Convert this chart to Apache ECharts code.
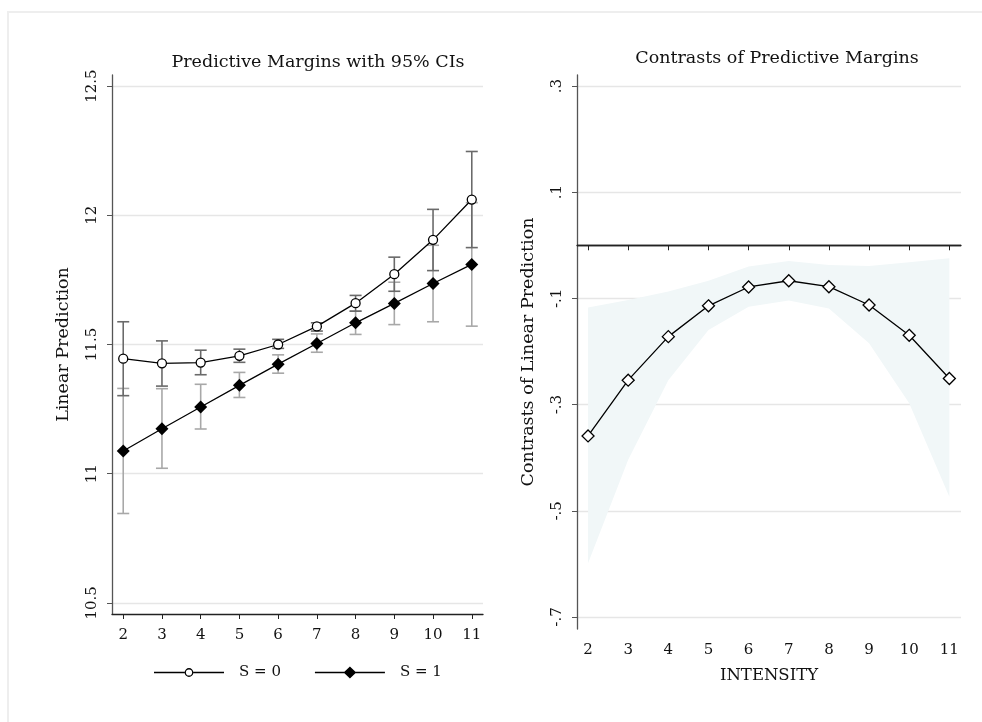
<!DOCTYPE html>
<html lang="en">
<head>
  <meta charset="UTF-8">
  <title>Predictive Margins and Contrasts (ECharts)</title>
  <script src="https://cdn.jsdelivr.net/npm/echarts@6.0.0/dist/echarts.min.js"></script>
  <style>
    html, body { margin: 0; padding: 0; background: #fff; }
    #frame { position: absolute; left: 7px; top: 11px; right: -4px; bottom: -4px;
             border-left: 2px solid #eeeeee; border-top: 2px solid #eeeeee; }
    #chart { position: absolute; left: 0; top: 0; width: 982px; height: 722px; }
  </style>
</head>
<body>
  <div id="frame"></div>
  <div id="chart"></div>
  <script>
    // Intensity levels (x)
    const intensity = [2, 3, 4, 5, 6, 7, 8, 9, 10, 11];

    // Left panel: predictive margins, S = 0 and S = 1, with 95% CIs
    const marginS0 = [11.445, 11.427, 11.430, 11.456, 11.500, 11.570, 11.660, 11.772, 11.905, 12.061];
    const lowS0    = [11.302, 11.339, 11.383, 11.431, 11.485, 11.552, 11.629, 11.706, 11.786, 11.875];
    const highS0   = [11.588, 11.514, 11.478, 11.482, 11.520, 11.584, 11.690, 11.838, 12.023, 12.247];

    const marginS1 = [11.088, 11.174, 11.258, 11.342, 11.424, 11.504, 11.584, 11.659, 11.736, 11.810];
    const lowS1    = [10.846, 11.021, 11.173, 11.295, 11.389, 11.470, 11.539, 11.577, 11.588, 11.571];
    const highS1   = [11.330, 11.329, 11.346, 11.392, 11.460, 11.541, 11.629, 11.741, 11.884, 12.049];

    // Right panel: contrast (S=1 vs S=0) with 95% CI band
    const contrast  = [-0.359, -0.254, -0.172, -0.114, -0.0785, -0.0668, -0.078, -0.1125, -0.1695, -0.2508];
    const contrLow  = [-0.599, -0.404, -0.254, -0.1595, -0.1156, -0.104, -0.119, -0.1847, -0.2976, -0.4735];
    const contrHigh = [-0.117, -0.103, -0.087, -0.0667, -0.040, -0.0296, -0.037, -0.039, -0.032, -0.0246];

    const leftTicks  = [10.5, 11, 11.5, 12, 12.5];
    const rightTicks = [-0.7, -0.5, -0.3, -0.1, 0.1, 0.3];

    const serif = '"DejaVu Serif", "Liberation Serif", serif';

    // legend icons: line with a marker in the middle (hollow circle / filled diamond)
    const iconS0 = 'path://M0,29.35H30.6V30.65H0Z M39.4,29.35H70V30.65H39.4Z ' +
                   'M35,25.6A4.4,4.4 0 1,1 35,34.4A4.4,4.4 0 1,1 35,25.6Z ' +
                   'M35,26.9A3.1,3.1 0 1,0 35,33.1A3.1,3.1 0 1,0 35,26.9Z';
    const iconS1 = 'path://M0,29.35H29.5L35,24L40.5,29.35H70V30.65H40.5L35,36L29.5,30.65H0Z';

    const chart = echarts.init(document.getElementById('chart'));

    // error bars with small caps
    function errBars(color) {
      return function (params, api) {
        const x = api.value(0);
        const lo = api.coord([x, api.value(1)]);
        const hi = api.coord([x, api.value(2)]);
        const w = 6;
        const st = { stroke: color, lineWidth: 1.6 };
        return {
          type: 'group',
          children: [
            { type: 'line', shape: { x1: lo[0], y1: lo[1], x2: hi[0], y2: hi[1] }, style: st },
            { type: 'line', shape: { x1: lo[0] - w, y1: lo[1], x2: lo[0] + w, y2: lo[1] }, style: st },
            { type: 'line', shape: { x1: hi[0] - w, y1: hi[1], x2: hi[0] + w, y2: hi[1] }, style: st }
          ]
        };
      };
    }

    // CI band drawn once as a single polygon (upper edge, then lower edge back)
    function bandRender(params, api) {
      if (params.dataIndex !== 0) return null;
      const upper = intensity.map((x, i) => api.coord([x, contrHigh[i]]));
      const lower = intensity.map((x, i) => api.coord([x, contrLow[i]])).reverse();
      return {
        type: 'polygon',
        shape: { points: upper.concat(lower) },
        style: { fill: '#f1f7f8', stroke: null }
      };
    }

    const zip = (a, b) => a.map((v, i) => [a[i], b[i]]);
    const bars = (lo, hi) => intensity.map((x, i) => [x, lo[i], hi[i]]);

    function xAxisCfg(gridIndex, min, max, name) {
      return {
        type: 'value', gridIndex: gridIndex, min: min, max: max,
        name: name, nameLocation: 'middle', nameGap: 38,
        nameTextStyle: { fontFamily: serif, fontSize: 16.5, color: '#111' },
        axisLine: { lineStyle: { color: '#222', width: 1.3 } },
        axisTick: { customValues: intensity, length: 5, lineStyle: { color: '#222' } },
        axisLabel: { customValues: intensity, margin: 14, fontFamily: serif, fontSize: 15, color: '#111' },
        splitLine: { show: false }
      };
    }

    function yAxisCfg(gridIndex, min, max, ticks, name, fmt) {
      return {
        type: 'value', gridIndex: gridIndex, min: min, max: max,
        name: name, nameLocation: 'middle', nameGap: 40,
        nameTextStyle: { fontFamily: serif, fontSize: 17.5, color: '#111' },
        axisLine: { show: true, lineStyle: { color: '#555', width: 1.3 } },
        axisTick: { show: true, customValues: ticks, length: 5, lineStyle: { color: '#555' } },
        axisLabel: { customValues: ticks, rotate: 90, margin: 12, fontFamily: serif, fontSize: 15,
                     color: '#111', formatter: fmt },
        splitLine: { show: true, lineStyle: { color: '#e6e6e6', width: 1.3 } }
      };
    }

    const option = {
      animation: false,
      backgroundColor: 'transparent',
      graphic: [
        { type: 'text', x: 318, y: 62,
          style: { text: 'Predictive Margins with 95% CIs', font: '17.5px ' + serif, fill: '#111',
                   textAlign: 'center', textVerticalAlign: 'middle' } },
        { type: 'text', x: 777, y: 58,
          style: { text: 'Contrasts of Predictive Margins', font: '17.5px ' + serif, fill: '#111',
                   textAlign: 'center', textVerticalAlign: 'middle' } }
      ],
      grid: [
        { left: 112, top: 75, width: 371, height: 539 },
        { left: 577, top: 75, width: 384, height: 554 }
      ],
      xAxis: [
        xAxisCfg(0, 1.71, 11.29, ''),
        xAxisCfg(1, 1.725, 11.29, 'INTENSITY')
      ],
      yAxis: [
        yAxisCfg(0, 10.457, 12.543, leftTicks, 'Linear Prediction', v => String(+v.toFixed(1))),
        yAxisCfg(1, -0.7226, 0.3207, rightTicks, 'Contrasts of Linear Prediction',
                 v => (+v.toFixed(1)).toString().replace('0.', '.'))
      ],
      legend: {
        data: [
          { name: 'S = 0', icon: iconS0, itemStyle: { color: '#000', borderWidth: 0 } },
          { name: 'S = 1', icon: iconS1, itemStyle: { color: '#000', borderWidth: 0 } }
        ],
        left: 149, top: 660,
        itemWidth: 70, itemHeight: 12, itemGap: 34,
        textStyle: { fontFamily: serif, fontSize: 15, color: '#111', padding: [0, 0, 0, 10] }
      },
      series: [
        {
          name: 'band', type: 'custom', xAxisIndex: 1, yAxisIndex: 1, z: 1, silent: true,
          renderItem: bandRender, data: bars(contrLow, contrHigh)
        },
        {
          name: 'ci1', type: 'custom', xAxisIndex: 0, yAxisIndex: 0, z: 2,
          renderItem: errBars('#a8a8a8'), data: bars(lowS1, highS1)
        },
        {
          name: 'ci0', type: 'custom', xAxisIndex: 0, yAxisIndex: 0, z: 3,
          renderItem: errBars('#6a6a6a'), data: bars(lowS0, highS0)
        },
        {
          name: 'S = 0', type: 'line', xAxisIndex: 0, yAxisIndex: 0, z: 5,
          data: zip(intensity, marginS0),
          symbol: 'circle', symbolSize: 9,
          lineStyle: { color: '#000', width: 1.3 },
          itemStyle: { color: '#fff', borderColor: '#000', borderWidth: 1.3 }
        },
        {
          name: 'S = 1', type: 'line', xAxisIndex: 0, yAxisIndex: 0, z: 5,
          data: zip(intensity, marginS1),
          symbol: 'diamond', symbolSize: 13,
          lineStyle: { color: '#000', width: 1.3 },
          itemStyle: { color: '#000', borderColor: '#000', borderWidth: 0 }
        },
        {
          name: 'contrast', type: 'line', xAxisIndex: 1, yAxisIndex: 1, z: 5,
          data: zip(intensity, contrast),
          symbol: 'diamond', symbolSize: 12,
          lineStyle: { color: '#000', width: 1.3 },
          itemStyle: { color: '#fff', borderColor: '#000', borderWidth: 1.3 },
          markLine: {
            silent: true, symbol: 'none', label: { show: false },
            lineStyle: { color: '#222', width: 1.3, type: 'solid' },
            data: [{ yAxis: 0 }]
          }
        }
      ]
    };

    chart.setOption(option);
  </script>
</body>
</html>
